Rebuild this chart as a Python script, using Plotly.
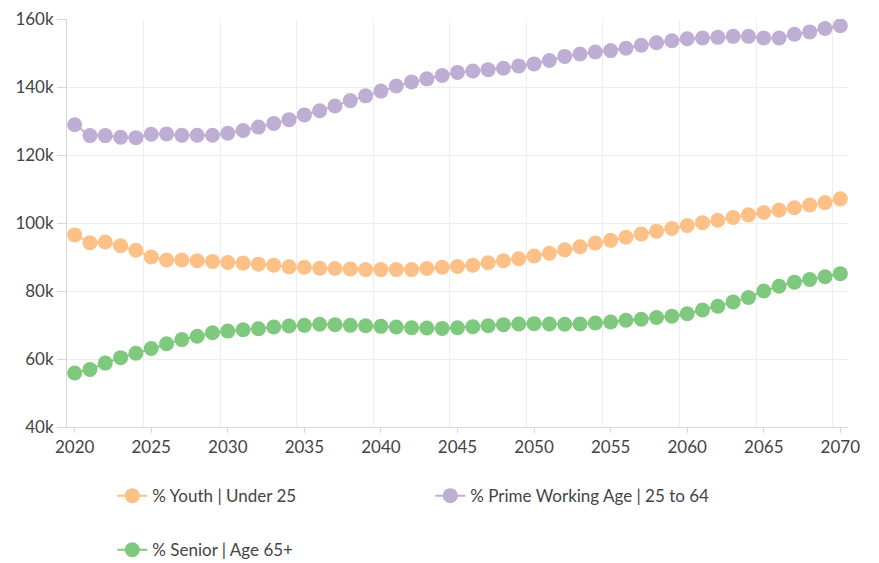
import plotly.graph_objects as go

years = list(range(2020, 2071))

# values in thousands
youth = [96.5, 94.2, 94.4, 93.3, 92.0, 90.0, 89.1, 89.1, 88.9, 88.7,
         88.4, 88.2, 87.9, 87.6, 87.1, 87.0, 86.7, 86.6, 86.5, 86.3,
         86.3, 86.3, 86.3, 86.6, 87.0, 87.2, 87.6, 88.3, 88.9, 89.5,
         90.3, 91.1, 92.1, 93.0, 94.1, 94.9, 95.8, 96.8, 97.6, 98.4,
         99.3, 100.1, 100.8, 101.6, 102.4, 103.1, 103.8, 104.5, 105.3, 106.0,
         107.1]
prime = [128.9, 125.7, 125.7, 125.2, 125.1, 126.1, 126.2, 125.8, 125.8, 125.8,
         126.4, 127.2, 128.2, 129.3, 130.4, 131.8, 133.0, 134.4, 136.0, 137.4,
         138.8, 140.3, 141.5, 142.4, 143.4, 144.3, 144.7, 145.1, 145.5, 146.2,
         146.8, 147.8, 149.0, 149.7, 150.3, 150.7, 151.4, 152.3, 153.0, 153.6,
         154.2, 154.4, 154.6, 154.9, 154.9, 154.4, 154.4, 155.5, 156.2, 157.2,
         158.0]
senior = [55.9, 56.9, 58.8, 60.4, 61.7, 63.1, 64.5, 65.7, 66.7, 67.7,
          68.2, 68.6, 68.9, 69.4, 69.7, 69.9, 70.2, 70.1, 69.9, 69.8,
          69.6, 69.4, 69.2, 69.1, 69.0, 69.2, 69.5, 69.8, 70.1, 70.3,
          70.4, 70.3, 70.2, 70.3, 70.6, 70.9, 71.4, 71.7, 72.2, 72.6,
          73.3, 74.4, 75.5, 76.8, 78.1, 80.0, 81.4, 82.6, 83.4, 84.2,
          85.1]

series = [
    ("% Youth | Under 25", youth, "#fdc086", "legend"),
    ("% Prime Working Age | 25 to 64", prime, "#beaed4", "legend"),
    ("% Senior | Age 65+", senior, "#7fc97f", "legend2"),
]

fig = go.Figure()
for name, vals, color, leg in series:
    fig.add_trace(go.Scatter(x=years, y=[v * 1000 for v in vals], name=name,
                             mode="lines+markers", legend=leg,
                             line=dict(color=color, width=2),
                             marker=dict(color=color, size=15)))

# legends sit in container coords so they don't push the plot margins
legend_style = dict(orientation="h", xanchor="left", yanchor="middle",
                    yref="container", font=dict(size=17, color="#444"),
                    entrywidth=273, bgcolor="rgba(0,0,0,0)")

# page body adds an 8px offset, so margins are trimmed to compensate
fig.update_layout(
    width=879, height=563,
    margin=dict(l=59, r=39, t=11, b=144),
    plot_bgcolor="white", paper_bgcolor="white",
    font=dict(family="Lato, sans-serif", color="#444"),
    legend=dict(x=0.058, y=0.133, **legend_style),
    legend2=dict(x=0.058, y=0.037, **legend_style),
)
fig.update_xaxes(range=[2019.5, 2070.5], tickvals=list(range(2020, 2071, 5)),
                 showgrid=False, showline=True, linecolor="#d6d6d6",
                 ticks="outside", ticklen=5, tickcolor="#d6d6d6",
                 tickfont=dict(size=17, color="#444"), zeroline=False,
                 automargin=False, ticklabeloverflow="allow",
                 minor=dict(tick0=2019.5, dtick=5, showgrid=True,
                            gridcolor="#eeeeee", ticks=""))
fig.update_yaxes(range=[40000, 160000], dtick=20000, tickformat="~s",
                 showgrid=True, gridcolor="#eeeeee", showline=True,
                 linecolor="#d6d6d6", ticks="outside", ticklen=9,
                 tickcolor="#d6d6d6", tickfont=dict(size=17, color="#444"),
                 zeroline=False, automargin=False, ticklabeloverflow="allow")

fig.write_html("out.html")
